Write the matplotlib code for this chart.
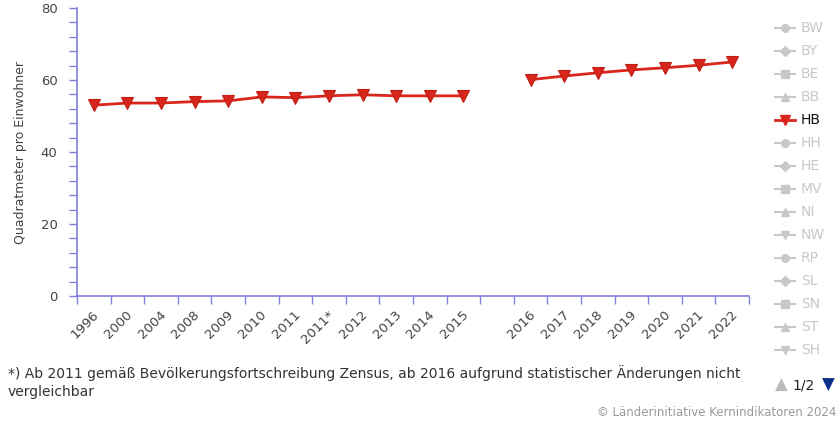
import numpy as np
import matplotlib
matplotlib.use("Agg")
import matplotlib.pyplot as plt
from matplotlib.lines import Line2D
import matplotlib.transforms as mtransforms

plt.rcParams['font.family'] = ['DejaVu Sans']

categories = ['1996', '2000', '2004', '2008', '2009', '2010', '2011', '2011*', '2012',
              '2013', '2014', '2015', '', '2016', '2017', '2018', '2019', '2020', '2021', '2022']
values = [53.0, 53.6, 53.6, 54.0, 54.2, 55.3, 55.1, 55.6, 55.9, 55.6, 55.6, 55.6,
          np.nan, 60.1, 61.1, 62.0, 62.8, 63.4, 64.1, 65.0]
legend_labels = ['BW', 'BY', 'BE', 'BB', 'HB', 'HH', 'HE', 'MV', 'NI', 'NW', 'RP', 'SL', 'SN', 'ST', 'SH']
legend_markers = ['o', 'D', 's', '^', 'v']
active = 'HB'

W, H = 840, 423
fig = plt.figure(figsize=(W / 100, H / 100), dpi=100)
x0, x1, yt, yb = 77, 749, 8, 296
ax = fig.add_axes([x0 / W, (H - yb) / H, (x1 - x0) / W, (yb - yt) / H])

red = '#d9261c'
axis_col = '#8080e0'
x = np.arange(len(categories))
ax.plot(x, values, color=red, lw=2.0, marker='v', ms=8, mfc=red, mec='#c01e14', mew=0.8,
        zorder=3, clip_on=False)

ax.set_xlim(-0.5, len(categories) - 0.5)
ax.set_ylim(0, 80)
for s in ['top', 'right']:
    ax.spines[s].set_visible(False)
ax.spines['left'].set_color(axis_col)
ax.spines['bottom'].set_color(axis_col)
ax.spines['left'].set_linewidth(1.2)
ax.spines['bottom'].set_linewidth(1.2)

ax.set_yticks(np.arange(0, 81, 20))
ax.set_yticks(np.arange(0, 81, 4), minor=True)
ax.tick_params(axis='y', which='both', length=6, width=1, color=axis_col, direction='out',
               labelsize=9.5, labelcolor='#444444', pad=8)

ax.set_xticks(np.arange(-0.5, len(categories), 1.0))
ax.set_xticklabels([])
ax.set_xticks(x, minor=True)
ax.set_xticklabels(categories, minor=True, rotation=45, ha='right', va='center',
                   rotation_mode='anchor', fontsize=9.5, color='#444444')
ax.tick_params(axis='x', which='major', length=6, width=1, color=axis_col, direction='out')
ax.tick_params(axis='x', which='minor', length=0, pad=12)
off = mtransforms.ScaledTranslation(3 / 100, 0, fig.dpi_scale_trans)
for lab in ax.get_xticklabels(minor=True):
    lab.set_transform(lab.get_transform() + off)

ax.set_ylabel('Quadratmeter pro Einwohner', fontsize=9, color='#444444', labelpad=10)

# legend
grey = '#c8c8c8'
for i, lab in enumerate(legend_labels):
    yy = (H - (28 + 23 * i)) / H
    col = red if lab == active else grey
    tcol = '#111111' if lab == active else grey
    fig.add_artist(Line2D([775 / W, 795 / W], [yy, yy], color=col, lw=2 if lab == active else 1.5,
                          transform=fig.transFigure))
    fig.add_artist(Line2D([785 / W], [yy], marker=legend_markers[i % 5], ms=7 if lab == active else 5.5,
                          color=col, mec=col, transform=fig.transFigure))
    fig.text(801 / W, yy, lab, fontsize=10, color=tcol, va='center', ha='left')

fig.text(781 / W, (H - 385) / H, '▲', fontsize=12, color='#bbbbbb', va='center', ha='center')
fig.text(804 / W, (H - 385) / H, '1/2', fontsize=10, color='#222222', va='center', ha='center')
fig.text(828 / W, (H - 385) / H, '▼', fontsize=12, color='#0a2f8a', va='center', ha='center')

fig.text(8 / W, (H - 373) / H, '*) Ab 2011 gemäß Bevölkerungsfortschreibung Zensus, ab 2016 aufgrund statistischer Änderungen nicht',
         fontsize=10, color='#333333', va='center', ha='left')
fig.text(8 / W, (H - 392) / H, 'vergleichbar', fontsize=10, color='#333333', va='center', ha='left')
fig.text(836 / W, (H - 412) / H, '© Länderinitiative Kernindikatoren 2024', fontsize=8.5,
         color='#999999', va='center', ha='right')

fig.savefig('out.png', dpi=100)
